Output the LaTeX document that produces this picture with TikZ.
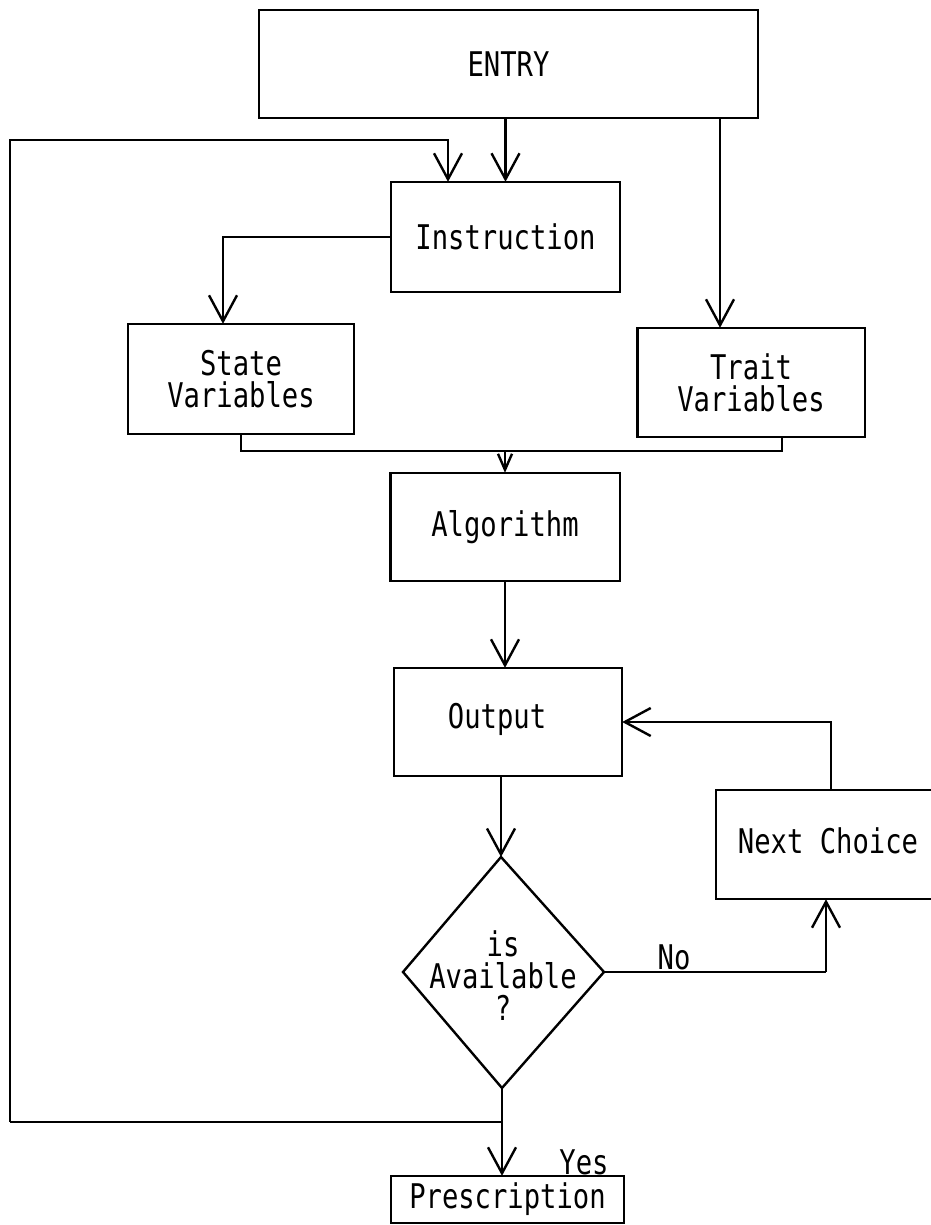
\documentclass[tikz,border=0pt]{standalone}
\usepackage{fontspec}
\setmonofont[FakeStretch=0.8]{DejaVu Sans Mono}
\usetikzlibrary{arrows.meta}

\begin{document}
\begin{tikzpicture}[x=1pt,y=-1pt,
  font=\ttfamily\fontsize{34}{32}\selectfont,
  every node/.style={inner sep=0pt, align=center},
  box/.style={draw=none},
  vrule/.style={line width=2.4pt, line cap=rect},
  hrule/.style={line width=2.4pt, line cap=rect, dash pattern=on 18pt off 2pt on 7pt off 2pt},
  arr/.style={line width=2.4pt, -{Straight Barb[length=26pt,width=28pt,line width=2.4pt]}},
  arrsmall/.style={line width=2.4pt, -{Straight Barb[length=16pt,width=14pt,line width=2.4pt]}}
]
% page
\fill[white] (0,0) rectangle (930,1225);
\useasboundingbox (0,0) rectangle (930,1225);

% boxes
\node[box, minimum width=499pt, minimum height=108pt] (entry)  at (508.5,64)   {ENTRY};
\node[box, minimum width=229pt, minimum height=110pt] (instr)  at (505.5,237)  {Instruction};
\node[box, minimum width=226pt, minimum height=110pt] (state)  at (241,379)    {State\\Variables};
\node[box, minimum width=227pt, minimum height=109pt] (trait)  at (751,382.5)  {Trait\\Variables};
\node[box, minimum width=229pt, minimum height=108pt] (algo)   at (505,527)    {Algorithm};
\node[box, minimum width=228pt, minimum height=108pt] (output) at (508,722)    {};
\node (outtxt) at (497,719) {Output};
\node[box, minimum width=218pt, minimum height=109pt] (nextc)  at (825,844.5)  {};
\node (nexttxt) at (828,841) {Next Choice};
\node[box, minimum width=233pt, minimum height=47pt]  (presc)  at (507.5,1199.5) {Prescription};

\foreach \b in {entry,instr,state,trait,algo,output,nextc,presc}{
  \draw[hrule] (\b.north west) -- (\b.north east);
  \draw[hrule] (\b.south west) -- (\b.south east);
  \draw[vrule] (\b.north west) -- (\b.south west);
  \draw[vrule] (\b.north east) -- (\b.south east);
}

% decision diamond
\coordinate (dtop)   at (501,857);
\coordinate (dleft)  at (403,972);
\coordinate (dright) at (604,972);
\coordinate (dbot)   at (502,1088);
\draw[line width=2.4pt, line join=miter] (dtop) -- (dright) -- (dbot) -- (dleft) -- cycle;
\node (avail) at (503,976) {is\\Available\\?};

% routing points
\coordinate (tx)   at (720,0);
\coordinate (sx)   at (223,0);
\coordinate (lx)   at (448,0);
\coordinate (loopT) at (10,140);
\coordinate (loopB) at (10,1122);
\coordinate (mrg)  at (0,451);
\coordinate (mxr)  at (782,0);
\coordinate (nx)   at (831,0);
\coordinate (nocorner) at (826,972);

% ENTRY to Instruction and Trait Variables
\draw[arr] (instr.north |- entry.south) -- (instr.north);
\draw[arr] (tx |- entry.south) -- (tx |- trait.north);

% Instruction to State Variables
\draw[vrule] (instr.west) -- (sx |- instr.west);
\draw[arr] (sx |- instr.west) -- (sx |- state.north);

% State and Trait Variables merge into Algorithm
\draw[hrule] (state.south) -- (state.south |- mrg) -- (mxr |- mrg) -- (mxr |- trait.south);
\draw[arrsmall] (algo.north |- mrg) -- (algo.north);

% Algorithm to Output to decision
\draw[arr] (algo.south) -- (algo.south |- output.north);
\draw[arr] (dtop |- output.south) -- (dtop);

% Next Choice back to Output
\draw[vrule] (nx |- nextc.north) -- (nx |- output.east);
\draw[arr] (nx |- output.east) -- (output.east);

% No branch
\draw[hrule] (dright) -- (nocorner);
\draw[arr] (nocorner) -- (nocorner |- nextc.south);
\node (nolabel) at (674,957) {No};

% Yes branch
\draw[arr] (dbot) -- (dbot |- presc.north);
\node (yeslabel) at (584,1162) {Yes};

% loop back to Instruction
\draw[hrule] (dbot |- loopB) -- (loopB) -- (loopT) -- (lx |- loopT);
\draw[arr] (lx |- loopT) -- (lx |- instr.north);
\end{tikzpicture}
\end{document}
